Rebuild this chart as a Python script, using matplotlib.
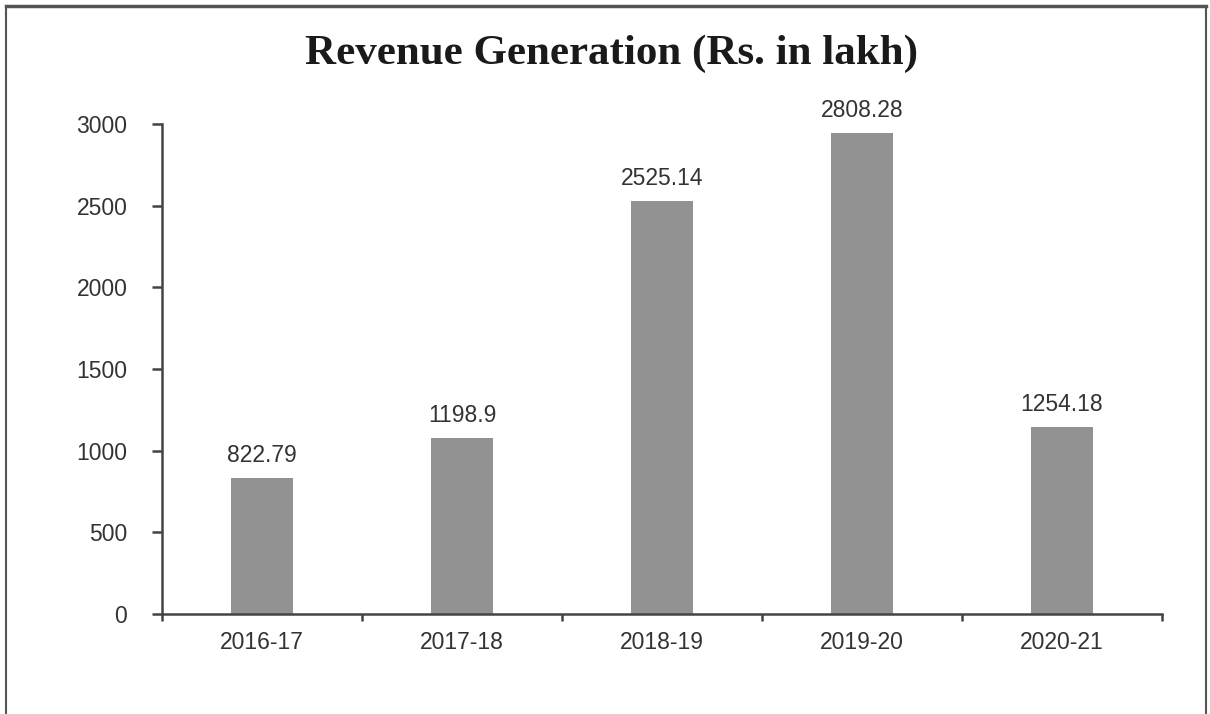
import matplotlib.pyplot as plt
from matplotlib.lines import Line2D
import numpy as np

# data
years = ['2016-17', '2017-18', '2018-19', '2019-20', '2020-21']
bar_heights = [833, 1078, 2529, 2945, 1145]   # heights as drawn in the picture
value_labels = ['822.79', '1198.9', '2525.14', '2808.28', '1254.18']
yticks = [0, 500, 1000, 1500, 2000, 2500, 3000]

txt = '#333333'
fs = 16.5
fig = plt.figure(figsize=(12.1, 7.14), dpi=100)
ax = fig.add_axes([0.1339, 0.140, 0.8264, 0.6863])

x = np.arange(len(years))
bars = ax.bar(x, bar_heights, width=0.31, color='#929292', zorder=2)

for b, lab in zip(bars, value_labels):
    ax.annotate(lab, (b.get_x() + b.get_width() / 2, b.get_height()),
                xytext=(0, 8), textcoords='offset points',
                ha='center', va='bottom', fontsize=fs, color=txt,
                family='Liberation Sans')

ax.set_xlim(-0.5, len(years) - 0.5)
ax.set_ylim(0, 3000)
ax.set_yticks(yticks)
ax.set_yticklabels([str(v) for v in yticks], fontsize=fs, color=txt,
                   family='Liberation Sans')
ax.set_xticks(x)
ax.set_xticklabels(years, fontsize=fs, color=txt, family='Liberation Sans')
ax.tick_params(axis='x', length=0, pad=12)
ax.set_xticks(np.arange(len(years) + 1) - 0.5, minor=True)
ax.tick_params(axis='x', which='minor', length=5, width=1.8, color='#444444')
ax.tick_params(axis='y', length=7, width=1.8, color='#444444', pad=18)

for s in ['top', 'right']:
    ax.spines[s].set_visible(False)
for s in ['left', 'bottom']:
    ax.spines[s].set_linewidth(1.8)
    ax.spines[s].set_color('#444444')

fig.text(0.505, 0.925, 'Revenue Generation (Rs. in lakh)', ha='center',
         va='center', fontsize=31, fontweight='bold', color='#1a1a1a',
         family='Liberation Serif')

# frame round the figure (bottom edge is cut off in the original)
fc = '#555555'
fig.add_artist(Line2D([0.005, 0.997], [0.992, 0.992], color=fc, lw=2.5))
fig.add_artist(Line2D([0.005, 0.005], [0.0, 0.992], color=fc, lw=1.5))
fig.add_artist(Line2D([0.997, 0.997], [0.0, 0.992], color=fc, lw=1.5))

fig.savefig('out.png', dpi=100)
